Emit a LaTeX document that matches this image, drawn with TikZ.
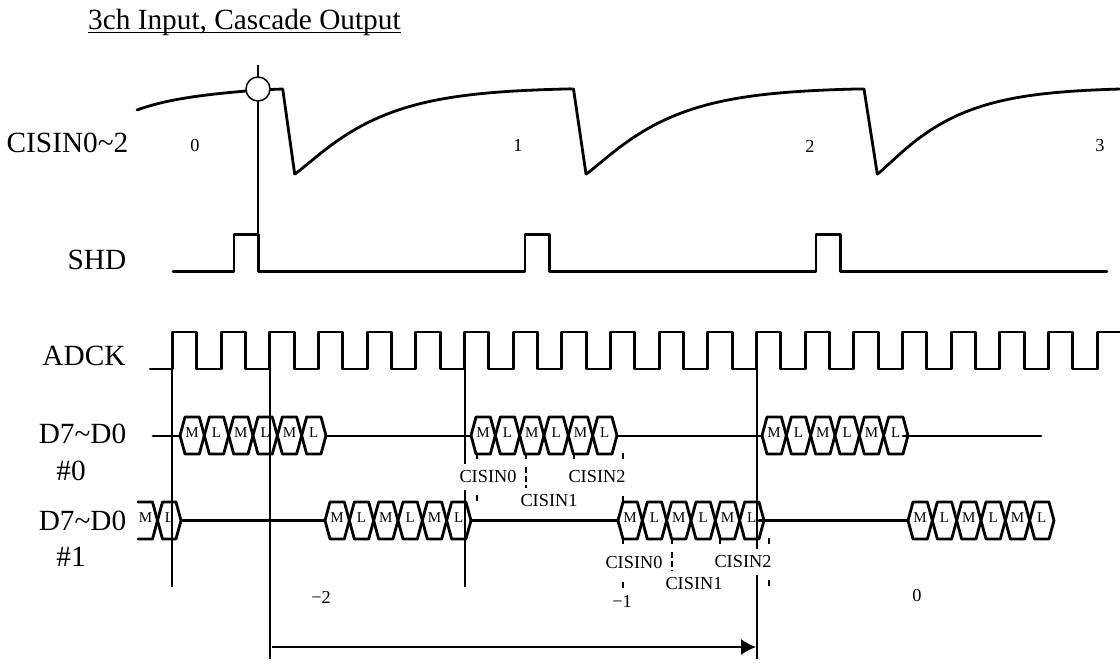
\documentclass[tikz,border=0pt]{standalone}
\usepackage{fontspec}
\setmainfont{Liberation Serif}
\usetikzlibrary{arrows.meta}
\tikzset{
    signal/.style={line width=2.8pt, line join=round, line cap=round},
    thinline/.style={line width=1.5pt},
    tick/.style={line width=1.2pt, dash pattern=on 6pt off 3pt},
    biglabel/.style={anchor=base, inner sep=0pt, font=\fontsize{29.3}{32}\selectfont},
    smalllabel/.style={inner sep=0pt, font=\fontsize{18.3}{20}\selectfont},
    cislabel/.style={smalllabel, fill=white, minimum height=26pt},
    celltext/.style={inner sep=0pt, font=\fontsize{15}{16}\selectfont},
}
\begin{document}
\begin{tikzpicture}[x=1pt, y=-1pt, >={Latex[length=15pt,width=16pt]}]
\useasboundingbox (0,0) rectangle (1120,662);
\node[biglabel, anchor=base west] (title) at (88,29.5){3ch Input, Cascade Output};
\draw[thinline] ([yshift=-3.2pt]title.base west)--([yshift=-3.2pt]title.base east);
\node[biglabel] (lcisin) at (67.5,152){CISIN0\char`~2};
\node[biglabel] (lshd) at (97,269){SHD};
\node[biglabel] (ladck) at (84,365){ADCK};
\node[biglabel] (ldzero) at (82.5,443){D7\char`~D0};
\node[biglabel] (lnzero) at (71,480){\#0};
\node[biglabel] (ldone) at (82.5,530){D7\char`~D0};
\node[biglabel] (lnone) at (71,566){\#1};
\foreach \n/\x/\y/\t in {a/195/145/0,b/518/145/1,c/810/146/2,d/1100/146/3,e/321/597/−2,f/622/601/−1,g/917/595/0}
{
    \node[smalllabel] (num\n) at (\x,\y){\t};
}
% CISIN waveform
\draw[signal] (137,110) .. controls (170,98) and (210,94) .. (258,90)--(282.7,89)--(294.7,174);
\foreach \x/\w/\e/\b in {294.7/275/573.5/586,586/274/864/877.3}
{
    \draw[signal, variable=\u, domain=1:\w, samples=60] (\x,174)--plot({\x+\u},{87.5+86.5*exp(-(\u/80)^1.15)})--(\e,89)--(\b,174);
}
\draw[signal, variable=\u, domain=1:242, samples=60] (877.3,174)--plot({877.3+\u},{87.5+86.5*exp(-(\u/72)^1.15)});
% SHD
\draw[signal] (173,271.5)--(234,271.5)--(234,234.5)--(258.5,234.5)--(258.5,271.5)
    --(525,271.5)--(525,234.5)--(549.5,234.5)--(549.5,271.5)
    --(816,271.5)--(816,234.5)--(840.5,234.5)--(840.5,271.5)--(1107,271.5);
% ADCK
\draw[signal] (150,369)--(172.5,369) foreach \k in {0,...,18} {--++(0,-37)--++(24.3,0)--++(0,37)--++(24.37,0)} --++(0,-37)--(1120,332);
% data lines
\draw[signal] (153,436)--(1041,436);
\draw[signal] (181,520.5)--(907,520.5);
\foreach \id/\xs/\yc in {p/180/435.5,q/471/435.5,r/762/435.5,s/325/520.5,t/618/520.5,u/908/520.5}
{
    \foreach \i/\t in {0/M,1/L,2/M,3/L,4/M,5/L}
    {
        \pgfmathsetmacro{\xl}{\xs+\i*24.33}
        \draw[signal, fill=white] (\xl,\yc)--++(5,-18.5)--++(14.33,0)--++(5,18.5)--++(-5,18.5)--++(-14.33,0)--cycle;
        \node[celltext] (\id\i) at (\xl+12.15,\yc-3){\t};
    }
}
% cut off cells at the left
\draw[signal] (138,502)--(152.5,502)--(157.5,520.5)--(152.5,539)--(138,539);
\node[celltext] (v0) at (145.5,517.5){M};
\draw[signal, fill=white] (157.5,520.5)--++(5,-18.5)--++(13.5,0)--++(5,18.5)--++(-5,18.5)--++(-13.5,0)--cycle;
\node[celltext] (v1) at (169.5,517.5){L};
\draw[signal] (903,436)--(910,436);
\draw[signal] (759,520.5)--(767,520.5);
% vertical lines
\foreach \n/\x/\e in {a/172/587,b/270/659,c/465/587,d/757/659}
{
    \coordinate (top\n) at (\x,369);
    \coordinate (bot\n) at (\x,\e);
    \draw[thinline] (top\n)--(bot\n);
}
\coordinate (probetop) at (258,65);
\coordinate (probebot) at (258,272);
\draw[thinline] (probetop)--(probebot);
\node[circle, draw, thinline, fill=white, minimum size=24pt, inner sep=0pt] (probe) at (258,89){};
% short dashes
\foreach \x/\a/\b in {477/453/460,477/495/501,526/453/459,526/467/488,574/453/459,623/453/460,623/496/502,623/538/544,623/582/588,672/538/544,672/552/573,720/538/544,769/538/545,769/580/587}
{
    \draw[tick] (\x,\a)--(\x,\b);
}
\foreach \n/\x/\y/\t in {a/488/476.5/0,b/549/501/1,c/597/476.5/2,d/634/562/0,e/694/584/1,f/743/562/2}
{
    \node[cislabel] (cis\n) at (\x,\y){CISIN\t};
}
\coordinate (holdstart) at (272,647);
\coordinate (holdend) at (756,647);
\draw[->, thinline] (holdstart)--(holdend);
\end{tikzpicture}
\end{document}
